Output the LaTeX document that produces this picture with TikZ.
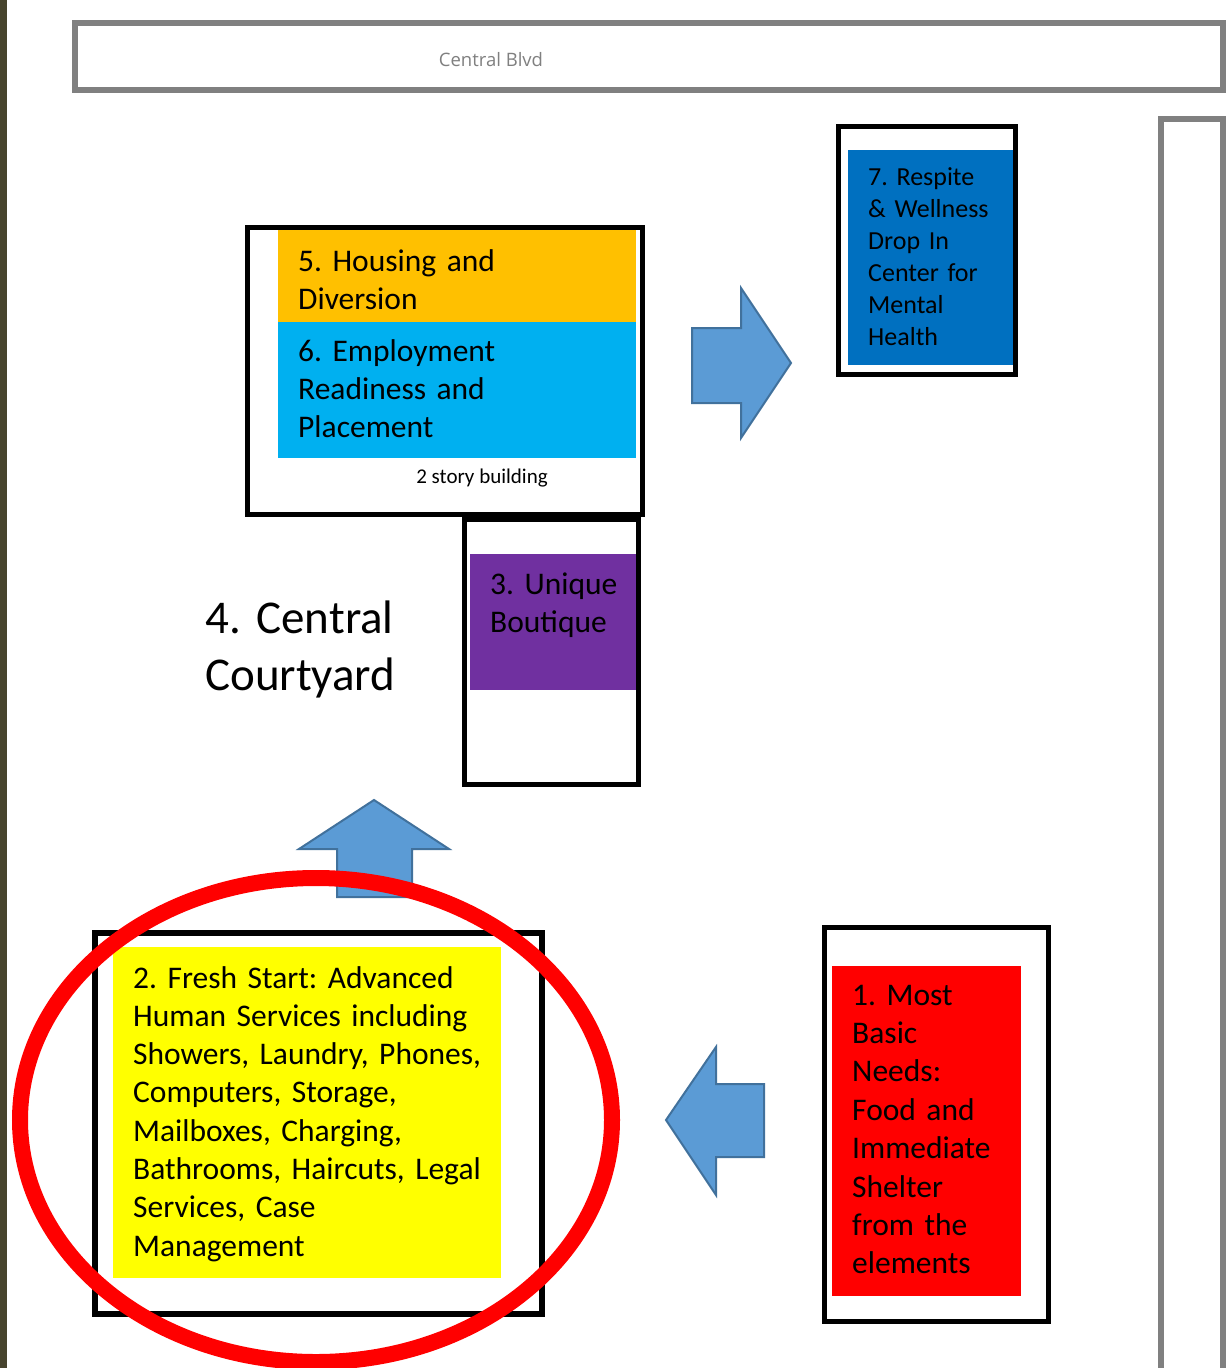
\documentclass[tikz,border=0pt]{standalone}
\usepackage{fontspec}
\setmainfont{Carlito}
\newfontfamily\blvdfont{Open Sans}
\usepackage{tikz}
\frenchspacing
\colorlet{housing}{rgb,255:red,255;green,192;blue,0}
\colorlet{employment}{rgb,255:red,0;green,176;blue,240}
\colorlet{boutique}{rgb,255:red,112;green,48;blue,160}
\colorlet{respite}{rgb,255:red,0;green,112;blue,192}
\colorlet{freshstart}{rgb,255:red,255;green,255;blue,0}
\colorlet{basicneeds}{rgb,255:red,255;green,0;blue,0}
\colorlet{arrowfill}{rgb,255:red,91;green,155;blue,213}
\colorlet{arrowline}{rgb,255:red,65;green,113;blue,156}
\colorlet{street}{rgb,255:red,128;green,128;blue,128}
\tikzset{
  wall/.style={draw=black,line width=5pt},
  lot/.style={draw=street,line width=6pt},
  blockarrow/.style={fill=arrowfill,draw=arrowline,line width=2pt,line join=miter},
  tag/.style={anchor=base west,inner sep=0pt,align=left,text width=#1},
  tag/.default=400pt,
}

\begin{document}
\begin{tikzpicture}[
  x=1pt,y=-1pt,
  bodyfont/.style={font=\fontsize{31.5}{38}\selectfont},
]
\useasboundingbox (0,0) rectangle (1230,1368);
\fill[white] (0,0) rectangle (1230,1368);
\fill[black!65!olive] (0,0) rectangle (7,1368);

% street and side lot
\draw[lot] (75,23) rectangle (1223,90);
\node[anchor=base,inner sep=0pt,text=street,font=\blvdfont\fontsize{18.5}{22}\selectfont] (blvd) at (491,66) {Central Blvd};
\draw[lot] (1161,1380) -- (1161,119) -- (1223,119) -- (1223,1380);

% two story building
\fill[housing] (278,230) rectangle (636,322);
\fill[employment] (278,322) rectangle (636,458);
\draw[wall] (247.5,227.5) rectangle (642.5,514.5);
\node[tag,bodyfont] (housing) at (298,271) {5. Housing and\\Diversion};
\node[tag,bodyfont] (employment) at (298,361) {6. Employment\\Readiness and\\Placement};
\node[anchor=base,inner sep=0pt,font=\fontsize{21}{25}\selectfont] (storey) at (482,483) {2 story building};

% boutique
\fill[boutique] (470,554) rectangle (636,690);
\draw[wall] (464.5,519.5) rectangle (638.5,784.5);
\node[tag,bodyfont] (boutique) at (490,594) {3. Unique\\Boutique};

% courtyard
\node[tag,font=\fontsize{47}{57}\selectfont] (courtyard) at (205,633) {4. Central\\Courtyard};

% respite
\fill[respite] (848,150) rectangle (1013,365);
\draw[wall] (838.5,126.5) rectangle (1015.5,374.5);
\node[tag,font=\fontsize{26}{32}\selectfont] (respite) at (868,185)
  {7. Respite\\\& Wellness\\Drop In\\Center for\\Mental\\Health};

% fresh start
\fill[freshstart] (113,947) rectangle (501,1278);
\draw[wall,line width=6pt] (95,933) rectangle (542,1314);
\node[tag,font=\fontsize{31.5}{38.3}\selectfont] (freshstart) at (133,988)
  {2. Fresh Start: Advanced\\Human Services including\\Showers, Laundry, Phones,\\Computers, Storage,\\Mailboxes, Charging,\\Bathrooms, Haircuts, Legal\\Services, Case\\Management};

% basic needs
\fill[basicneeds] (832,966) rectangle (1021,1296);
\draw[wall] (824.5,927.5) rectangle (1048.5,1321.5);
\node[tag,font=\fontsize{31.5}{38.4}\selectfont] (basicneeds) at (852,1005)
  {1. Most\\Basic\\Needs:\\Food and\\Immediate\\Shelter\\from the\\elements};

% block arrows
\draw[blockarrow] (692,328) -- (741,328) -- (741,288) -- (791,363) -- (741,438) -- (741,403) -- (692,403) -- cycle;
\draw[blockarrow] (337,897) -- (337,849) -- (299,849) -- (374,800) -- (449,849) -- (412,849) -- (412,897) -- cycle;
\draw[blockarrow] (764,1084) -- (716,1084) -- (716,1047) -- (666,1120) -- (716,1195) -- (716,1157) -- (764,1157) -- cycle;

% highlight
\draw[basicneeds,line width=16pt] (316,1120) ellipse [x radius=296,y radius=242];
\end{tikzpicture}
\end{document}
